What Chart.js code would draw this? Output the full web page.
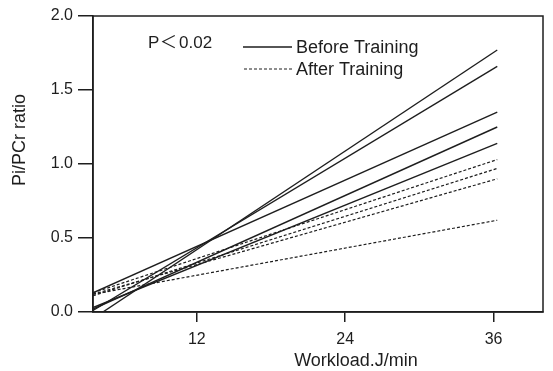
<!DOCTYPE html>
<html>
<head>
<meta charset="utf-8">
<script src="https://cdn.jsdelivr.net/npm/chart.js@4"></script>
<style>
  body { margin: 0; background: #fff; }
  #wrap { width: 553px; height: 371px; }
</style>
</head>
<body>
<div id="wrap"><canvas id="myChart"></canvas></div>
<script>
// workload (J/min) where each regression line starts / ends
const beforeStartX = [4.4, 3.6, 3.6, 3.6, 3.6];
const afterStartX = [3.6, 3.6, 3.6, 3.6];
const endX = 36.3;

// Pi/PCr ratio at the start and end of each line
const beforeStartY = [0.0, 0.01, 0.13, 0.02, 0.03];
const beforeEndY = [1.77, 1.66, 1.35, 1.25, 1.14];
const afterStartY = [0.13, 0.11, 0.12, 0.12];
const afterEndY = [1.03, 0.97, 0.90, 0.62];

const xTicks = [12, 24, 36];
const yTicks = [0, 0.5, 1.0, 1.5, 2.0];

const FONT = "'Liberation Sans', Arial, 'Noto Sans CJK JP', sans-serif";
const INK = '#1e1e1e';

var datasets = [];
beforeEndY.forEach(function (v, i) {
  datasets.push({
    label: 'Before Training',
    data: [{ x: beforeStartX[i], y: beforeStartY[i] }, { x: endX, y: v }],
    borderColor: INK,
    borderWidth: 1.4,
    pointRadius: 0
  });
});
afterEndY.forEach(function (v, i) {
  datasets.push({
    label: 'After Training',
    data: [{ x: afterStartX[i], y: afterStartY[i] }, { x: endX, y: v }],
    borderColor: INK,
    borderWidth: 1.2,
    borderDash: [3, 2],
    pointRadius: 0
  });
});

// frame, axis titles and the in-plot key
const decorations = {
  id: 'decorations',
  afterDraw: function (chart) {
    const c = chart.ctx;
    const a = chart.chartArea;
    c.save();
    c.strokeStyle = INK;
    c.lineWidth = 1.5;
    c.strokeRect(a.left, a.top, a.right - a.left, a.bottom - a.top);

    c.fillStyle = INK;
    c.font = '18px ' + FONT;
    c.textAlign = 'center';
    c.textBaseline = 'middle';
    c.fillText('Workload.J/min', 356, 361);

    c.save();
    c.translate(20, 140);
    c.rotate(-Math.PI / 2);
    c.fillText('Pi/PCr ratio', 0, 0);
    c.restore();

    c.textAlign = 'left';
    c.font = '17px ' + FONT;
    c.fillText('P', 148, 43);
    c.fillText('＜', 160, 43);
    c.fillText('0.02', 179, 43);
    c.font = '18px ' + FONT;
    c.fillText('Before Training', 296, 48);
    c.fillText('After Training', 296, 70);

    c.lineWidth = 1.3;
    c.beginPath();
    c.moveTo(243, 47);
    c.lineTo(292, 47);
    c.stroke();
    c.lineWidth = 1.1;
    c.setLineDash([3, 2]);
    c.beginPath();
    c.moveTo(244, 69);
    c.lineTo(292, 69);
    c.stroke();
    c.restore();
  }
};

const ctx = document.getElementById('myChart').getContext('2d');

var graphData = {
  type: 'line',
  data: { datasets: datasets },
  options: {
    responsive: true,
    maintainAspectRatio: false,
    animation: false,
    layout: { padding: { left: 0, top: 16, right: 10, bottom: 0 } },
    plugins: { legend: { display: false }, tooltip: { enabled: false } },
    scales: {
      x: {
        type: 'linear',
        min: 3.6,
        max: 40,
        afterBuildTicks: function (axis) {
          axis.ticks = xTicks.map(function (v) { return { value: v }; });
        },
        afterFit: function (axis) { axis.height = 59; },
        grid: { drawOnChartArea: false, drawTicks: true, tickLength: 10, color: INK, lineWidth: 1.5 },
        border: { display: true, color: INK, width: 1.5 },
        ticks: { color: INK, padding: 8, maxRotation: 0, font: { family: FONT, size: 16 } }
      },
      y: {
        type: 'linear',
        min: 0,
        max: 2,
        afterBuildTicks: function (axis) {
          axis.ticks = yTicks.map(function (v) { return { value: v }; });
        },
        afterFit: function (axis) { axis.width = 93; },
        grid: { drawOnChartArea: false, drawTicks: true, tickLength: 15, color: INK, lineWidth: 1.5 },
        border: { display: true, color: INK, width: 1.5 },
        ticks: {
          color: INK,
          padding: 5,
          font: { family: FONT, size: 16 },
          callback: function (v) { return Number(v).toFixed(1); }
        }
      }
    }
  },
  plugins: [decorations]
};

var myChart = new Chart(ctx, graphData);
</script>
</body>
</html>
